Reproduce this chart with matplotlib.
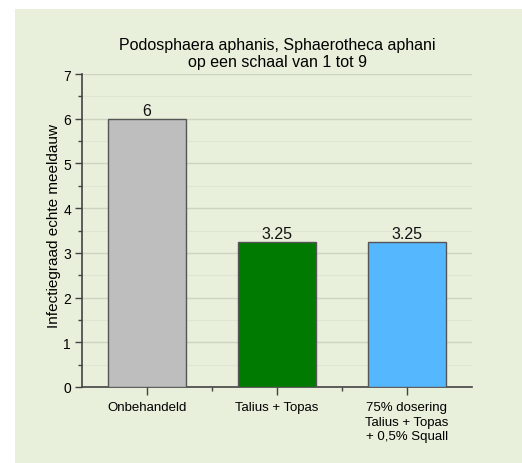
import matplotlib
matplotlib.use("Agg")
import matplotlib.pyplot as plt
from matplotlib.patches import Rectangle
from matplotlib.ticker import MultipleLocator, FixedLocator

categories = ["Onbehandeld", "Talius + Topas", "75% dosering\nTalius + Topas\n+ 0,5% Squall"]
values = [6, 3.25, 3.25]
value_labels = ["6", "3.25", "3.25"]
colors = ["#BEBEBE", "#007A00", "#55B8FF"]

plt.rcParams['font.family'] = ['Liberation Sans', 'DejaVu Sans']

W, H = 522, 464
fig = plt.figure(figsize=(W/100, H/100), dpi=100)
fig.patch.set_facecolor("white")
panel_color = "#E8EFDA"
panel = Rectangle((15/W, 0), 1 - 15/W, (H-10)/H, transform=fig.transFigure,
                  facecolor=panel_color, edgecolor="none", zorder=-10)
fig.add_artist(panel)

ax = fig.add_axes([82/W, (H-388)/H, (472-82)/W, (388-75)/H])
ax.set_zorder(1)
ax.set_facecolor(panel_color)
x = list(range(len(categories)))
bars = ax.bar(x, values, width=0.6, color=colors, edgecolor="#555555", linewidth=1.0, zorder=3)
for xi, v, lab in zip(x, values, value_labels):
    ax.text(xi, v + 0.01, lab, ha="center", va="bottom", fontsize=11.5, color="#111111", zorder=4)

ax.set_xlim(-0.5, 2.5)
ax.set_ylim(0, 7)
ax.yaxis.set_major_locator(MultipleLocator(1))
ax.yaxis.set_minor_locator(MultipleLocator(0.5))
ax.set_xticks(x)
ax.set_xticklabels(categories, fontsize=9.5, linespacing=1.3)
ax.xaxis.set_minor_locator(FixedLocator([0.5, 1.5]))
ax.tick_params(axis="y", labelsize=10, length=5, width=1, color="#444444", direction="out", pad=3)
ax.tick_params(axis="y", which="minor", length=3, width=1, color="#444444")
ax.tick_params(axis="x", which="major", length=6, width=1, color="#444444", pad=4)
ax.tick_params(axis="x", which="minor", length=3, width=1, color="#444444")
ax.grid(axis="y", which="major", color="#CDD4C2", linewidth=1, zorder=0)
ax.grid(axis="y", which="minor", color="#DEE5D2", linewidth=0.8, zorder=0)
ax.set_axisbelow(True)
for s in ["top", "right"]:
    ax.spines[s].set_visible(False)
for s in ["left", "bottom"]:
    ax.spines[s].set_color("#444444")
    ax.spines[s].set_linewidth(1.2)
ax.set_ylabel("Infectiegraad echte meeldauw", fontsize=11, va="center")
ax.yaxis.set_label_coords((54 - 82) / (472 - 82), (388 - 226) / (388 - 75))

fig.text((82+472)/2/W, (H-54)/H, "Podosphaera aphanis, Sphaerotheca aphani\nop een schaal van 1 tot 9",
         ha="center", va="center", fontsize=11.5, linespacing=1.2)

fig.savefig("out.png", dpi=100, facecolor=fig.get_facecolor())
